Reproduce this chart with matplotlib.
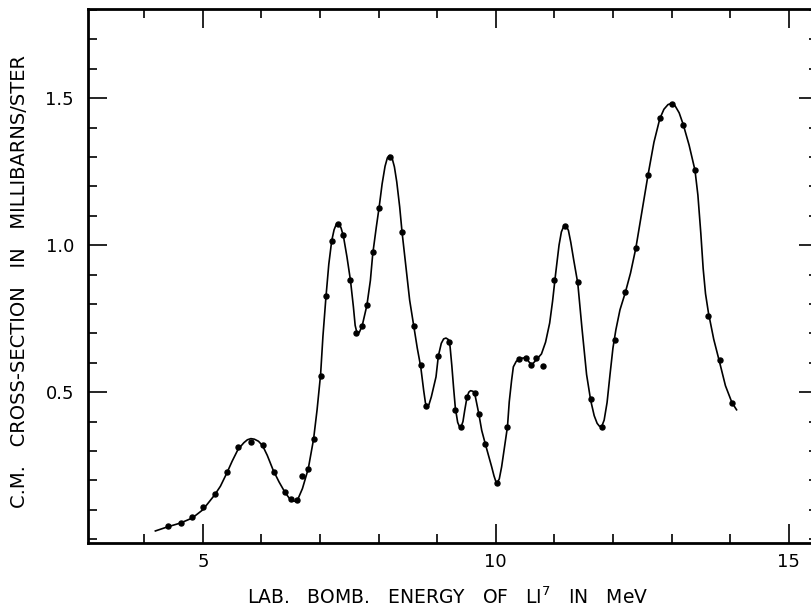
import matplotlib
matplotlib.use("Agg")
import matplotlib.pyplot as plt
from matplotlib.ticker import MultipleLocator, FixedLocator

# measured points (lab energy MeV, cross-section mb/ster)
energy = [4.40, 4.62, 4.82, 5.01, 5.20, 5.41, 5.60, 5.82, 6.02, 6.21,
          6.40, 6.50, 6.61, 6.69, 6.80, 6.89, 7.01, 7.10, 7.20, 7.30,
          7.40, 7.52, 7.61, 7.71, 7.80, 7.90, 8.01, 8.20, 8.40, 8.60,
          8.72, 8.81, 9.02, 9.21, 9.31, 9.40, 9.51, 9.64, 9.71, 9.82,
          10.02, 10.20, 10.40, 10.52, 10.60, 10.69, 10.81, 11.00, 11.19, 11.40,
          11.62, 11.81, 12.03, 12.21, 12.39, 12.60, 12.80, 13.00, 13.20, 13.40,
          13.63, 13.82, 14.03]
sigma = [0.045, 0.055, 0.075, 0.108, 0.152, 0.229, 0.312, 0.329, 0.320, 0.229,
         0.161, 0.135, 0.133, 0.215, 0.237, 0.340, 0.554, 0.827, 1.015, 1.072,
         1.033, 0.883, 0.702, 0.726, 0.796, 0.976, 1.126, 1.300, 1.044, 0.724,
         0.592, 0.452, 0.623, 0.672, 0.439, 0.380, 0.484, 0.496, 0.427, 0.325,
         0.192, 0.383, 0.612, 0.617, 0.592, 0.616, 0.588, 0.883, 1.065, 0.875,
         0.477, 0.382, 0.679, 0.841, 0.989, 1.238, 1.433, 1.480, 1.410, 1.255,
         0.760, 0.609, 0.464]

# hand-drawn smooth curve
curve_x = [4.19, 4.40, 4.62, 4.82, 5.00, 5.20, 5.30, 5.41, 5.50, 5.60,
           5.70, 5.76, 5.82, 5.88, 5.95, 6.02, 6.10, 6.20, 6.30, 6.40,
           6.48, 6.53, 6.57, 6.62, 6.70, 6.80, 6.89, 6.95, 7.01, 7.05,
           7.10, 7.15, 7.20, 7.24, 7.28, 7.32, 7.36, 7.40, 7.46, 7.52,
           7.57, 7.60, 7.63, 7.67, 7.72, 7.80, 7.86, 7.90, 7.96, 8.01,
           8.06, 8.11, 8.15, 8.19, 8.23, 8.27, 8.31, 8.36, 8.40, 8.47,
           8.53, 8.60, 8.66, 8.72, 8.77, 8.80, 8.83, 8.86, 8.90, 8.98,
           9.02, 9.07, 9.11, 9.15, 9.19, 9.22, 9.25, 9.28, 9.31, 9.35,
           9.38, 9.41, 9.44, 9.47, 9.51, 9.54, 9.57, 9.61, 9.64, 9.71,
           9.76, 9.82, 9.93, 9.97, 10.00, 10.03, 10.06, 10.10, 10.20, 10.23,
           10.27, 10.30, 10.35, 10.40, 10.46, 10.52, 10.57, 10.62, 10.70, 10.78,
           10.85, 10.92, 10.97, 11.02, 11.08, 11.12, 11.16, 11.20, 11.24, 11.28,
           11.33, 11.40, 11.47, 11.55, 11.62, 11.68, 11.73, 11.77, 11.81, 11.85,
           11.90, 11.95, 12.00, 12.05, 12.12, 12.21, 12.30, 12.39, 12.50, 12.60,
           12.70, 12.80, 12.87, 12.94, 13.00, 13.06, 13.13, 13.20, 13.30, 13.40,
           13.45, 13.50, 13.54, 13.58, 13.63, 13.72, 13.82, 13.92, 14.03, 14.11]
curve_y = [0.028, 0.042, 0.055, 0.072, 0.100, 0.150, 0.180, 0.225, 0.265, 0.305,
           0.328, 0.338, 0.342, 0.340, 0.333, 0.318, 0.285, 0.235, 0.195, 0.160,
           0.138, 0.130, 0.129, 0.135, 0.172, 0.240, 0.340, 0.440, 0.560, 0.690,
           0.820, 0.935, 1.015, 1.052, 1.072, 1.074, 1.058, 1.030, 0.960, 0.880,
           0.790, 0.727, 0.702, 0.703, 0.726, 0.795, 0.880, 0.970, 1.060, 1.130,
           1.208, 1.268, 1.297, 1.305, 1.296, 1.266, 1.215, 1.130, 1.045, 0.920,
           0.813, 0.724, 0.650, 0.585, 0.505, 0.463, 0.452, 0.458, 0.484, 0.552,
           0.623, 0.666, 0.681, 0.684, 0.679, 0.655, 0.590, 0.515, 0.446, 0.397,
           0.383, 0.383, 0.400, 0.438, 0.484, 0.500, 0.505, 0.503, 0.496, 0.427,
           0.370, 0.325, 0.246, 0.215, 0.197, 0.194, 0.205, 0.246, 0.383, 0.467,
           0.540, 0.586, 0.605, 0.612, 0.616, 0.617, 0.602, 0.594, 0.612, 0.630,
           0.670, 0.735, 0.810, 0.900, 1.000, 1.045, 1.064, 1.066, 1.050, 1.010,
           0.950, 0.870, 0.720, 0.560, 0.472, 0.420, 0.394, 0.384, 0.384, 0.405,
           0.465, 0.560, 0.650, 0.712, 0.780, 0.838, 0.905, 0.989, 1.120, 1.240,
           1.350, 1.430, 1.462, 1.478, 1.482, 1.474, 1.450, 1.410, 1.340, 1.255,
           1.170, 1.040, 0.920, 0.835, 0.770, 0.680, 0.602, 0.522, 0.465, 0.440]

x_major = [5, 10, 15]
y_major = [0.5, 1.0, 1.5]
y_labels = ["0.5", "1.0", "1.5"]

W, H = 812, 615
fig = plt.figure(figsize=(W / 100, H / 100), dpi=100)
ax = fig.add_axes([88 / W, 1 - 543 / H, (818 - 88) / W, (543 - 9) / H])

ax.plot(curve_x, curve_y, color="black", linewidth=1.2, zorder=2)
ax.plot(energy, sigma, "o", color="black", markersize=3.6, zorder=3)

ax.set_xlim(3.04, 15.50)
ax.set_ylim(-0.013, 1.803)

ax.xaxis.set_major_locator(FixedLocator(x_major))
ax.xaxis.set_minor_locator(MultipleLocator(1))
ax.yaxis.set_major_locator(FixedLocator(y_major))
ax.yaxis.set_minor_locator(MultipleLocator(0.1))
ax.set_xticklabels([str(v) for v in x_major])
ax.set_yticklabels(y_labels)

ax.tick_params(which="both", direction="in", top=True, right=True, width=1.2, color="black")
ax.tick_params(which="major", length=14, labelsize=13)
ax.tick_params(axis="x", which="major", pad=7)
ax.tick_params(axis="y", which="major", pad=10)
ax.tick_params(which="minor", length=6.5)

for sp in ax.spines.values():
    sp.set_linewidth(2.0)

fig.text(448 / W, 1 - 597 / H, "LAB.   BOMB.   ENERGY   OF   LI$^{7}$   IN   MeV",
         ha="center", va="center", fontsize=13.5)
fig.text(20 / W, 1 - 281 / H, "C.M.   CROSS-SECTION   IN   MILLIBARNS/STER",
         ha="center", va="center", rotation=90, fontsize=14)

fig.savefig("out.png", dpi=100)
